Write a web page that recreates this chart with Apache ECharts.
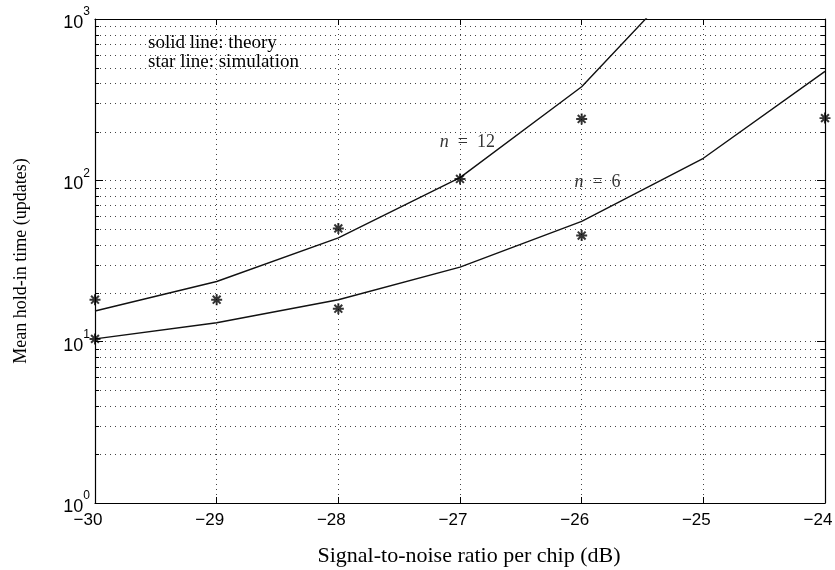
<!DOCTYPE html>
<html>
<head>
<meta charset="utf-8">
<script src="https://cdn.jsdelivr.net/npm/echarts@6/dist/echarts.min.js"></script>
<style>
  html, body { margin: 0; padding: 0; background: #fff; }
  #chart { width: 835px; height: 570px; }
</style>
</head>
<body>
<div id="chart"></div>
<script>
// SNR per chip (dB) for the theory curves
const snrTheory12 = [-30, -29, -28, -27, -26, -25];
const theory12 = [15.5, 23.6, 44, 104, 380, 2400];
const snrTheory6 = [-30, -29, -28, -27, -26, -25, -24];
const theory6 = [10.4, 13.1, 18.2, 29, 55.6, 137, 474];

// simulated mean hold-in times (stars)
const snrSim12 = [-30, -29, -28, -27, -26];
const sim12 = [18.2, 18.2, 50.3, 102, 240];
const snrSim6 = [-30, -28, -26, -24];
const sim6 = [10.4, 16.0, 45.5, 243];

// axis ranges and tick values
const xTicks = [-30, -29, -28, -27, -26, -25, -24];
const yDecades = [1, 10, 100, 1000];
const curveLabels = [
  { x: -26.94, y: 171, text: '{i|n}  =  12' },
  { x: -25.87, y: 96.7, text: '{i|n}  =  6' }
];

const pair = (xs, ys) => xs.map((x, i) => [x, ys[i]]);

// minor log grid positions: 2..9 within each decade
const minorValues = [];
for (let d = 0; d < yDecades.length - 1; d++) {
  for (let k = 2; k <= 9; k++) minorValues.push(k * yDecades[d]);
}

// eight-armed asterisk marker built from filled bars
const asterisk = 'path://' +
  'M-0.9,-5 L0.9,-5 L0.9,5 L-0.9,5 Z ' +
  'M-5,-0.9 L5,-0.9 L5,0.9 L-5,0.9 Z ' +
  'M-2.9,-4.2 L4.2,2.9 L2.9,4.2 L-4.2,-2.9 Z ' +
  'M-4.2,2.9 L2.9,-4.2 L4.2,-2.9 L-2.9,4.2 Z';

const gridColor = '#444';
const dotted = { type: [1, 4], color: gridColor, width: 1 };
const tickFont = 'Liberation Sans, Arial, Helvetica, sans-serif';
const serif = 'Liberation Serif, Times New Roman, serif';

const chart = echarts.init(document.getElementById('chart'), null, { renderer: 'canvas' });

chart.setOption({
  animation: false,
  backgroundColor: '#fff',
  grid: { left: 95, top: 19, width: 730, height: 484, containLabel: false, outerBoundsMode: 'none' },
  xAxis: [{
    type: 'value', min: -30, max: -24, interval: 1, position: 'bottom',
    axisLine: { show: true, onZero: false, lineStyle: { color: '#000', width: 1.2 } },
    axisTick: { show: true, inside: true, length: 6, lineStyle: { color: '#000' } },
    axisLabel: {
      margin: 9, color: '#000', fontFamily: tickFont, fontSize: 17,
      padding: [0, 14, 0, 0],
      formatter: v => xTicks.includes(v) ? String(v).replace('-', '\u2212') : ''
    },
    splitLine: { show: true, lineStyle: dotted },
    name: 'Signal-to-noise ratio per chip (dB)',
    nameLocation: 'middle', nameGap: 42,
    nameTextStyle: { color: '#000', fontFamily: serif, fontSize: 22, padding: [0, 0, 0, 18] }
  }, {
    type: 'value', min: -30, max: -24, interval: 1, position: 'top',
    axisLine: { show: true, onZero: false, lineStyle: { color: '#000', width: 1.2 } },
    axisTick: { show: true, inside: true, length: 6, lineStyle: { color: '#000' } },
    axisLabel: { show: false },
    splitLine: { show: false }
  }],
  yAxis: [{
    type: 'log', logBase: 10, min: 1, max: 1000, position: 'left',
    axisLine: { show: true, onZero: false, lineStyle: { color: '#000', width: 1.2 } },
    axisTick: { show: true, inside: true, length: 8, lineStyle: { color: '#000' } },
    axisLabel: {
      margin: 5, color: '#000',
      formatter: v => '{b|10}{s|' + Math.round(Math.log10(v)) + '}',
      rich: {
        b: { fontFamily: tickFont, fontSize: 18, color: '#000', verticalAlign: 'bottom', lineHeight: 26 },
        s: { fontFamily: tickFont, fontSize: 12, color: '#000', verticalAlign: 'top', lineHeight: 26 }
      }
    },
    splitLine: { show: true, lineStyle: dotted },
    name: 'Mean hold-in time (updates)',
    nameLocation: 'middle', nameGap: 65, nameRotate: 90,
    nameTextStyle: { color: '#000', fontFamily: serif, fontSize: 18 }
  }, {
    type: 'log', logBase: 10, min: 1, max: 1000, position: 'right',
    axisLine: { show: true, onZero: false, lineStyle: { color: '#000', width: 1.2 } },
    axisTick: { show: true, inside: true, length: 8, lineStyle: { color: '#000' } },
    axisLabel: { show: false },
    splitLine: { show: false }
  }],
  graphic: [{
    type: 'text', left: 148, top: 34,
    style: {
      text: 'solid line: theory\nstar line: simulation',
      fontFamily: serif, fontSize: 19, lineHeight: 19, fill: '#000'
    },
    z: 10
  }],
  series: [
    {
      // minor log grid lines with short inward ticks on both sides
      type: 'custom', xAxisIndex: 0, yAxisIndex: 0, silent: true, z: 1,
      data: minorValues.map(v => [-30, v]),
      renderItem: (params, api) => {
        const cs = params.coordSys;
        const y = Math.round(api.coord([-30, api.value(1)])[1]) + 0.5;
        const x0 = cs.x, x1 = cs.x + cs.width;
        return {
          type: 'group',
          children: [
            { type: 'line', shape: { x1: x0, y1: y, x2: x1, y2: y },
              style: { stroke: gridColor, lineWidth: 1, lineDash: [1, 4] } },
            { type: 'line', shape: { x1: x0, y1: y, x2: x0 + 4, y2: y },
              style: { stroke: '#000', lineWidth: 1 } },
            { type: 'line', shape: { x1: x1 - 4, y1: y, x2: x1, y2: y },
              style: { stroke: '#000', lineWidth: 1 } }
          ]
        };
      }
    },
    {
      name: 'theory n=12', type: 'line', data: pair(snrTheory12, theory12),
      showSymbol: false, smooth: false, clip: true, z: 3,
      lineStyle: { color: '#111', width: 1.4 }
    },
    {
      name: 'theory n=6', type: 'line', data: pair(snrTheory6, theory6),
      showSymbol: false, smooth: false, clip: true, z: 3,
      lineStyle: { color: '#111', width: 1.4 }
    },
    {
      name: 'simulation n=12', type: 'scatter', data: pair(snrSim12, sim12),
      symbol: asterisk, symbolSize: 11, clip: false, z: 4,
      itemStyle: { color: '#000' }
    },
    {
      name: 'simulation n=6', type: 'scatter', data: pair(snrSim6, sim6),
      symbol: asterisk, symbolSize: 11, clip: false, z: 4,
      itemStyle: { color: '#000' }
    },
    {
      // curve annotations placed in data coordinates
      type: 'scatter', symbolSize: 0, silent: true, z: 5,
      data: curveLabels.map(c => ({ value: [c.x, c.y], name: c.text })),
      label: {
        show: true, position: 'inside', formatter: p => p.name,
        color: '#000', fontFamily: serif, fontSize: 18,
        rich: { i: { fontFamily: serif, fontStyle: 'italic', fontSize: 18, color: '#000' } }
      }
    }
  ]
});
</script>
</body>
</html>
